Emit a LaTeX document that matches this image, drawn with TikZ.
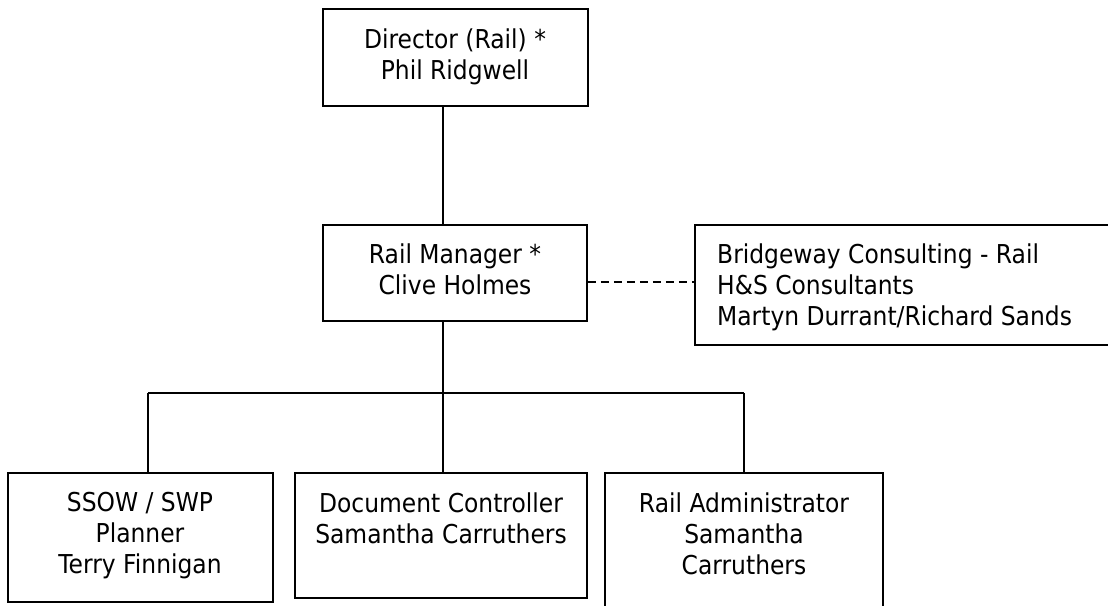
\documentclass[tikz,border=0pt]{standalone}
\usepackage{fontspec}
\setmainfont{DejaVu Sans}[FakeStretch=0.9]
\begin{document}
\begin{tikzpicture}[x=1pt,y=-1pt,
  box/.style={draw=black,line width=1.6pt,rectangle,inner sep=0pt},
  lbl/.style={inner sep=0pt,font=\fontsize{26}{31}\selectfont,text=black},
  conn/.style={draw=black,line width=1.6pt},
  dconn/.style={draw=black,line width=1.6pt,dash pattern=on 8pt off 5pt}]
\clip (0,0) rectangle (1108,605);
\fill[white] (0,0) rectangle (1108,605);
% boxes
\node[box,minimum width=265pt,minimum height=97pt] (dir) at (455.5,57.5) {};
\node[box,minimum width=264pt,minimum height=96pt] (rm) at (455,273) {};
\node[box,minimum width=420pt,minimum height=120pt] (br) at (905,285) {};
\node[box,minimum width=265pt,minimum height=129pt] (ssow) at (140.5,537.5) {};
\node[box,minimum width=292pt,minimum height=125pt] (doc) at (441,535.5) {};
\node[box,minimum width=278pt,minimum height=140pt] (adm) at (744,543) {};
% texts
\node[lbl,align=center,anchor=north] (dirt) at (455,26.3) {\strut Director (Rail) *\\Phil Ridgwell};
\node[lbl,align=center,anchor=north] (rmt) at (455,241.8) {\strut Rail Manager *\\Clive Holmes};
\node[lbl,align=left,anchor=north west] (brt) at (717,241.3) {\strut Bridgeway Consulting - Rail\\H\&S Consultants\\Martyn Durrant/Richard Sands};
\node[lbl,align=center,anchor=north] (ssowt) at (140,489.3) {\strut SSOW / SWP\\Planner\\Terry Finnigan};
\node[lbl,align=center,anchor=north] (doct) at (441,490.3) {\strut Document Controller\\Samantha Carruthers};
\node[lbl,align=center,anchor=north] (admt) at (744,490.3) {\strut Rail Administrator\\Samantha\\Carruthers};
% junction coordinates
\coordinate (jm) at (443,393);
\coordinate (jl) at (148,393);
\coordinate (jr) at (744,393);
% connectors
\draw[conn] (dir.south -| jm) -- (rm.north -| jm);
\draw[conn] (rm.south -| jm) -- (jm);
\draw[conn] (jl) -- (jr);
\draw[conn] (jl) -- (ssow.north -| jl);
\draw[conn] (jm) -- (doc.north -| jm);
\draw[conn] (jr) -- (adm.north -| jr);
\draw[dconn] (rm.east |- 0,282) -- (br.west |- 0,282);
\end{tikzpicture}
\end{document}
